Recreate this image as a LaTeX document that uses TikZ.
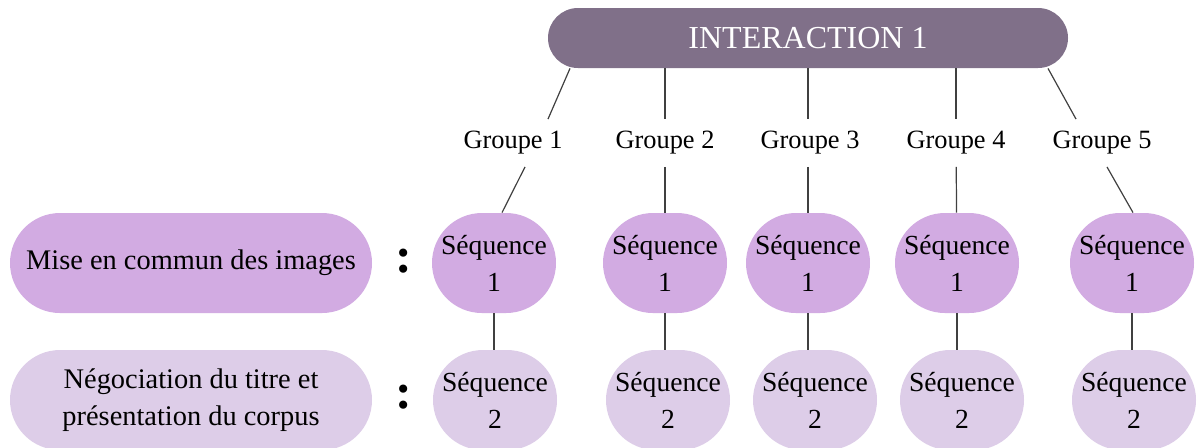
\documentclass[tikz,border=0pt]{standalone}
\usepackage{fontspec}
\setmainfont{Liberation Serif}
\definecolor{topbox}{RGB}{128,112,137}
\definecolor{seqone}{RGB}{210,171,226}
\definecolor{seqtwo}{RGB}{221,205,232}

\begin{document}
\begin{tikzpicture}[x=0.5pt,y=-0.5pt,-,auto]
		\tikzstyle{edge}=[draw=black!75,line width=0.6pt];
		\tikzstyle{root}=[rectangle,rounded corners=15pt,fill=topbox,text=white,
			minimum width=260pt,minimum height=30pt,
			font=\fontsize{16}{18}\selectfont];
		\tikzstyle{grouplabel}=[font=\fontsize{13.2}{16}\selectfont,inner xsep=5pt,inner ysep=6pt];
		\tikzstyle{seqnode}=[rectangle,rounded corners=25pt,minimum width=62pt,
			minimum height=50pt,align=center,inner sep=0pt,
			font=\fontsize{13.8}{18.5}\selectfont];
		\tikzstyle{phase}=[rectangle,rounded corners=25pt,minimum width=181pt,
			minimum height=50pt,align=center,
			font=\fontsize{14.2}{18.5}\selectfont];
		\tikzstyle{sep}=[font=\fontsize{25}{28}\selectfont\bfseries];
		\useasboundingbox (0,0) rectangle (1199,447);

		\node[root](top) at (808,38){INTERACTION 1};
		\node[grouplabel](g1) at (513,143){Groupe 1};
		\node[grouplabel](g2) at (665,143){Groupe 2};
		\node[grouplabel](g3) at (810,143){Groupe 3};
		\node[grouplabel](g4) at (956,143){Groupe 4};
		\node[grouplabel](g5) at (1102,143){Groupe 5};

		\node[phase,fill=seqone](p1) at (191,263){Mise en commun des images};
		\node[phase,fill=seqtwo](p2) at (191,400){Négociation du titre et\\présentation du corpus};
		\node[sep](c1) at (404,261){:};
		\node[sep](c2) at (404,397){:};

		\node[seqnode,fill=seqone](s11) at (494,263){Séquence\\1};
		\node[seqnode,fill=seqone](s21) at (665,263){Séquence\\1};
		\node[seqnode,fill=seqone](s31) at (808,263){Séquence\\1};
		\node[seqnode,fill=seqone](s41) at (957,263){Séquence\\1};
		\node[seqnode,fill=seqone](s51) at (1132,263){Séquence\\1};
		\node[seqnode,fill=seqtwo](s12) at (495,400){Séquence\\2};
		\node[seqnode,fill=seqtwo](s22) at (668,400){Séquence\\2};
		\node[seqnode,fill=seqtwo](s32) at (815,400){Séquence\\2};
		\node[seqnode,fill=seqtwo](s42) at (962,400){Séquence\\2};
		\node[seqnode,fill=seqtwo](s52) at (1134,400){Séquence\\2};

		% interaction -> groupes
		\draw[edge]([xshift=-119pt]top.south)--([xshift=17.5pt]g1.north);
		\draw[edge](top.south-|g2)--(g2);
		\draw[edge](top.south-|s31)--(g3.north-|s31);
		\draw[edge](top.south-|g4)--(g4);
		\draw[edge]([xshift=120pt]top.south)--([xshift=-13pt]g5.north);

		% groupes -> sequence 1
		\draw[edge]([xshift=6pt]g1.south)--([xshift=4pt]s11.north);
		\draw[edge](g2)--(s21);
		\draw[edge](g3.south-|s31)--(s31);
		\draw[edge](g4)--(s41);
		\draw[edge]([xshift=2.5pt]g5.south)--([xshift=0.5pt]s51.north);

		% sequence 1 -> sequence 2
		\draw[edge](s11.south)--(s11.south|-s12.north);
		\draw[edge](s21.south)--(s21.south|-s22.north);
		\draw[edge](s31.south)--(s31.south|-s32.north);
		\draw[edge](s41.south)--(s41.south|-s42.north);
		\draw[edge](s51.south)--(s51.south|-s52.north);
	\end{tikzpicture}
\end{document}
